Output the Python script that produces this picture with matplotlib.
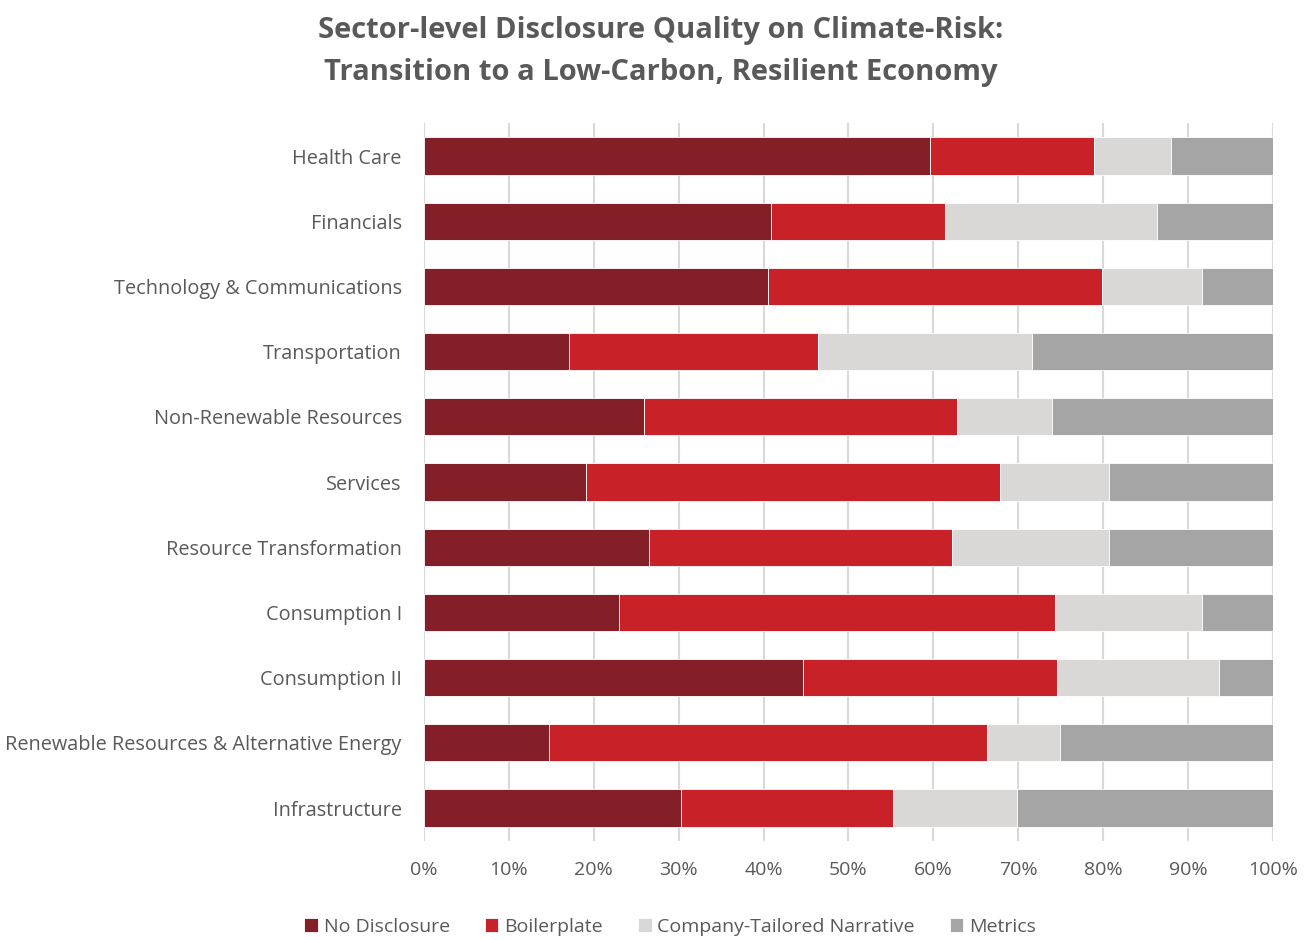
import matplotlib.pyplot as plt
import numpy as np

plt.rcParams['font.family'] = ['Open Sans', 'DejaVu Sans']

sectors = ['Health Care', 'Financials', 'Technology & Communications', 'Transportation',
           'Non-Renewable Resources', 'Services', 'Resource Transformation',
           'Consumption I', 'Consumption II', 'Renewable Resources & Alternative Energy',
           'Infrastructure']
no_disclosure = [59.6, 40.9, 40.5, 17.1, 25.9, 19.1, 26.5, 23.0, 44.6, 14.7, 30.3]
boilerplate = [19.3, 20.5, 39.4, 29.3, 36.9, 48.7, 35.7, 51.3, 30.0, 51.6, 24.9]
tailored = [9.1, 24.9, 11.7, 25.2, 11.2, 12.9, 18.5, 17.3, 19.0, 8.6, 14.6]
metrics = [12.0, 13.7, 8.4, 28.4, 26.0, 19.3, 19.3, 8.4, 6.4, 25.1, 30.2]

series = [('No Disclosure', no_disclosure, '#841f27'),
          ('Boilerplate', boilerplate, '#c82127'),
          ('Company-Tailored Narrative', tailored, '#d9d8d7'),
          ('Metrics', metrics, '#a5a5a5')]

text_grey = '#595959'

fig = plt.figure(figsize=(13.09, 9.40), dpi=100)
ax = fig.add_axes([0.3239, 0.1057, 0.6486, 0.763])

y = np.arange(len(sectors))
left = np.zeros(len(sectors))
for name, vals, col in series:
    vals = np.array(vals)
    ax.barh(y, vals, left=left, height=0.57, color=col, label=name,
            edgecolor='white', linewidth=0.6, zorder=3)
    left += vals

ax.set_xlim(0, 100)
ax.set_ylim(len(sectors) - 0.5, -0.5)
ax.set_xticks(np.arange(0, 101, 10))
ax.set_xticklabels([f'{v}%' for v in range(0, 101, 10)])
ax.set_yticks(y)
ax.set_yticklabels(sectors)
ax.tick_params(length=0, labelsize=14, colors=text_grey)
ax.tick_params(axis='y', labelsize=14.3, pad=16)
ax.tick_params(axis='x', pad=15)
ax.grid(axis='x', color='#d9d9d9', linewidth=1.5, zorder=0)
for s in ax.spines.values():
    s.set_visible(False)

fig.suptitle('Sector-level Disclosure Quality on Climate-Risk:\nTransition to a Low-Carbon, Resilient Economy',
             x=0.505, y=0.983, fontsize=21, fontweight='bold', color=text_grey,
             linespacing=1.6)

fig.legend(loc='lower center', bbox_to_anchor=(0.512, -0.014), ncol=4, frameon=False,
           fontsize=14, handlelength=0.7, handleheight=0.7, handletextpad=0.3,
           columnspacing=1.8, labelcolor=text_grey)

fig.savefig('out.png', dpi=100)
